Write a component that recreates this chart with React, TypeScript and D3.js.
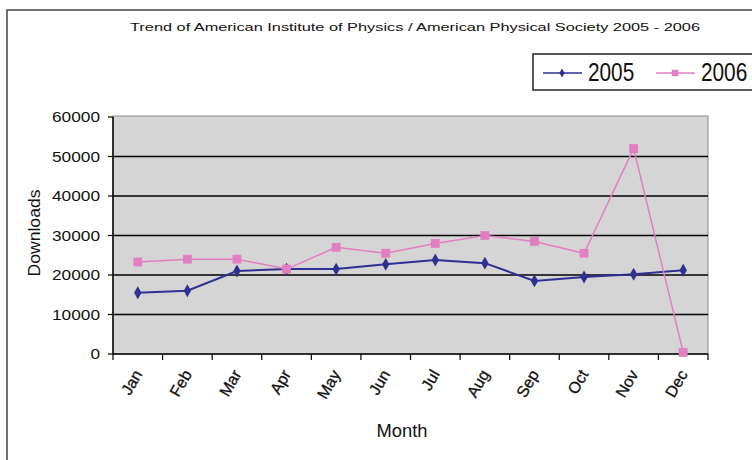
import * as d3 from "d3";

const months = ["Jan", "Feb", "Mar", "Apr", "May", "Jun", "Jul", "Aug", "Sep", "Oct", "Nov", "Dec"];
const downloads2005 = [15500, 16000, 21000, 21500, 21500, 22700, 23800, 23000, 18500, 19500, 20200, 21200];
const downloads2006 = [23300, 24000, 24000, 21500, 27000, 25500, 28000, 30000, 28500, 25500, 52000, 400];
const yTicks = [0, 10000, 20000, 30000, 40000, 50000, 60000];

const W = 752;
const H = 460;
const PLOT = { left: 113, right: 708, top: 117, bottom: 354 };
const FONT = "'Liberation Sans', Arial, sans-serif";

const series = [
  { name: "2005", values: downloads2005, color: "#2e3192", width: 2, marker: "diamond" },
  { name: "2006", values: downloads2006, color: "#e27fc0", width: 1.5, marker: "square" },
];

export default function App() {
  const x = d3.scaleBand<string>().domain(months).range([PLOT.left, PLOT.right]);
  const y = d3.scaleLinear().domain([0, 60000]).range([PLOT.bottom, PLOT.top]);
  const cx = (m: string) => (x(m) || 0) + x.bandwidth() / 2;

  const line = d3
    .line<number>()
    .x((_, i) => cx(months[i]))
    .y((d) => y(d));

  const diamond = d3.symbol(d3.symbolDiamond, 48)() || "";
  const square = d3.symbol(d3.symbolSquare, 78)() || "";
  const legDiamond = d3.symbol(d3.symbolDiamond, 24)() || "";
  const legSquare = d3.symbol(d3.symbolSquare, 42)() || "";

  // tick marks between categories
  const tickXs = months.map((m) => x(m) || 0).concat([PLOT.right]);

  return (
    <svg width={W} height={H} style={{ position: "absolute", left: 0, top: 0 }}>
      <rect x={0} y={0} width={W} height={H} fill="#fff" />
      <rect x={7} y={10} width={760} height={470} fill="none" stroke="#444" strokeWidth={1.5} />

      <text x={415} y={31} textAnchor="middle" fontFamily={FONT} fontSize={11} fill="#111" textLength={570} lengthAdjust="spacingAndGlyphs">
        Trend of American Institute of Physics / American Physical Society 2005 - 2006
      </text>

      {/* legend, box runs off the right edge like the original */}
      <g>
        <rect x={533} y={54} width={240} height={36} fill="#fff" stroke="#222" strokeWidth={1.5} />
        {series.map((s, i) => {
          const lx = 543 + i * 113;
          return (
            <g key={s.name}>
              <line x1={lx} x2={lx + 39} y1={73} y2={73} stroke={s.color} strokeWidth={1.3} />
              <path transform={`translate(${lx + 19},73)`} d={s.marker === "diamond" ? legDiamond : legSquare} fill={s.color} />
              <text transform={`translate(${lx + 45},81) scale(0.8,1)`} fontFamily={FONT} fontSize={26} fill="#111">
                {s.name}
              </text>
            </g>
          );
        })}
      </g>

      {/* plot area */}
      <rect x={PLOT.left} y={PLOT.top - 1} width={PLOT.right - PLOT.left} height={PLOT.bottom - PLOT.top + 1} fill="#d5d5d5" stroke="#999" strokeWidth={1.2} />
      {yTicks.map((t) => (
        <g key={t}>
          {t > 0 && t < 60000 && <line x1={PLOT.left} x2={PLOT.right} y1={y(t)} y2={y(t)} stroke="#000" strokeWidth={1.6} />}
          <line x1={PLOT.left - 5} x2={PLOT.left} y1={y(t)} y2={y(t)} stroke="#000" strokeWidth={1.2} />
          <text
            x={PLOT.left - 13}
            y={y(t) + 5}
            textAnchor="end"
            fontFamily={FONT}
            fontSize={15}
            fill="#111"
            textLength={String(t).length * 9.6}
            lengthAdjust="spacingAndGlyphs"
          >
            {t}
          </text>
        </g>
      ))}
      <line x1={PLOT.left} x2={PLOT.left} y1={PLOT.top} y2={PLOT.bottom} stroke="#000" strokeWidth={1.5} />
      <line x1={PLOT.left} x2={PLOT.right} y1={PLOT.bottom} y2={PLOT.bottom} stroke="#000" strokeWidth={1.6} />
      {tickXs.map((tx, i) => (
        <line key={i} x1={tx} x2={tx} y1={PLOT.bottom} y2={PLOT.bottom + 6} stroke="#000" strokeWidth={1.2} />
      ))}

      {months.map((m) => (
        <text
          key={m}
          transform={`translate(${cx(m) + 5},${PLOT.bottom + 20}) rotate(-60)`}
          textAnchor="end"
          fontFamily={FONT}
          fontSize={16}
          fill="#111"
          stroke="#111"
          strokeWidth={0.3}
        >
          {m}
        </text>
      ))}

      {series.map((s) => (
        <g key={s.name}>
          <path d={line(s.values) || ""} fill="none" stroke={s.color} strokeWidth={s.width} />
          {s.values.map((v, i) => (
            <path
              key={i}
              transform={`translate(${cx(months[i])},${y(v)})`}
              d={s.marker === "diamond" ? diamond : square}
              fill={s.color}
            />
          ))}
        </g>
      ))}

      <text
        transform={`translate(40,233) rotate(-90)`}
        textAnchor="middle"
        fontFamily={FONT}
        fontSize={17}
        fill="#111"
        textLength={87}
        lengthAdjust="spacingAndGlyphs"
      >
        Downloads
      </text>
      <text x={402} y={437} textAnchor="middle" fontFamily={FONT} fontSize={18} fill="#111" textLength={51} lengthAdjust="spacingAndGlyphs">
        Month
      </text>
    </svg>
  );
}
